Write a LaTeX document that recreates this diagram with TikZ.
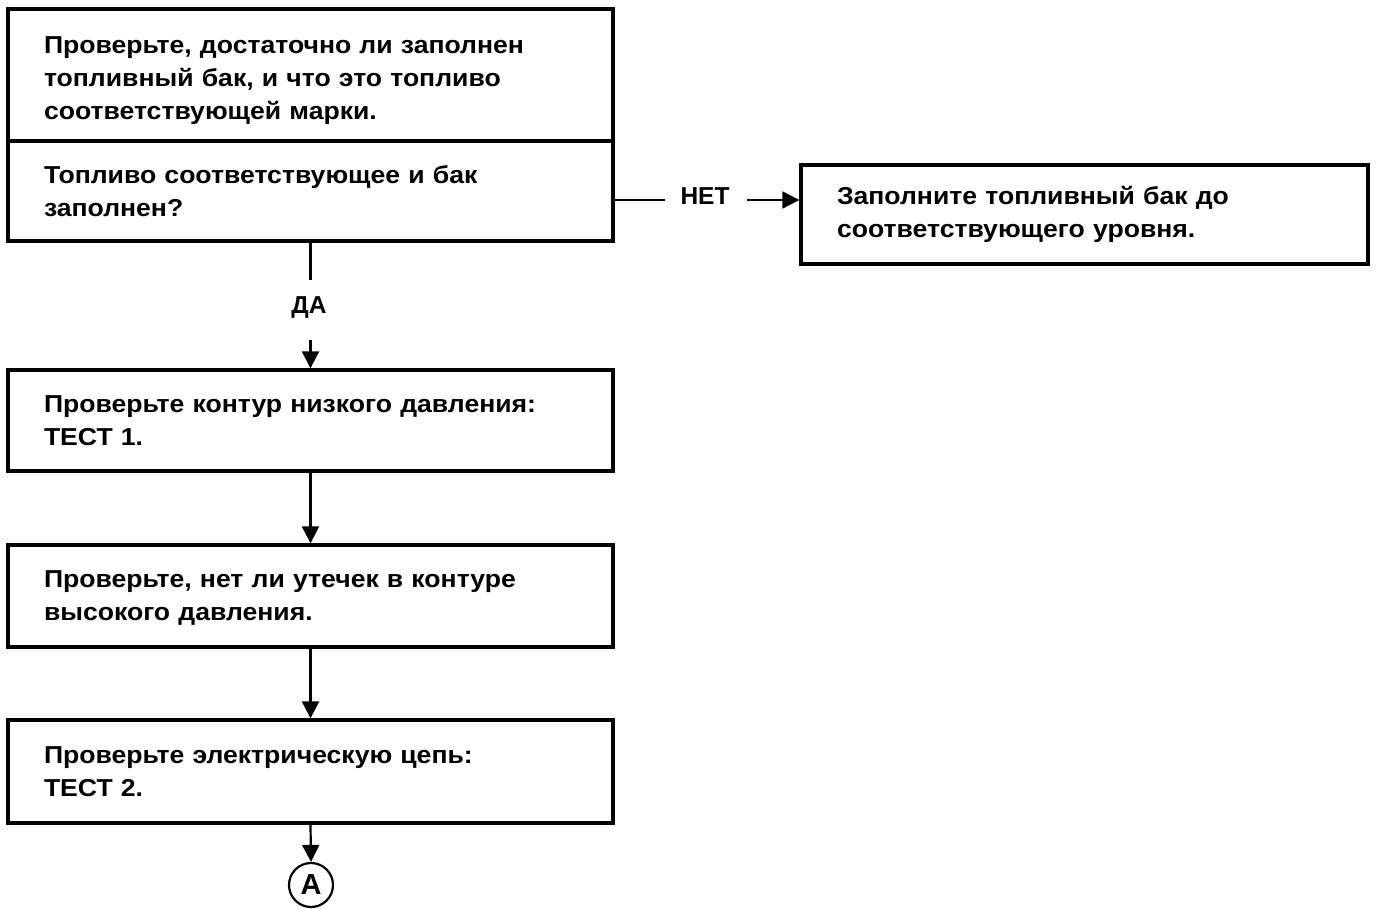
\documentclass[tikz,border=0pt]{standalone}
\usepackage{fontspec}
\setmainfont{Liberation Sans}
\newfontfamily\boxfont[FakeStretch=1.085]{Liberation Sans}
\usetikzlibrary{arrows.meta}
\begin{document}
\begin{tikzpicture}[x=1pt,y=-1pt,
  every node/.style={font=\boxfont\fontsize{24.5}{33}\selectfont\bfseries},
  label text/.style={font=\fontsize{24.5}{24.5}\selectfont\bfseries},
  stepbox/.style={draw,line width=3.4pt,rectangle,minimum width=605pt,
    inner xsep=36pt,inner ysep=0pt,text width=533pt,align=left},
  shift text/.style={execute at end node={\endgraf\vspace*{#1}}},
  link/.style={line width=2.2pt},
  arrowlink/.style={line width=2.2pt,-{Triangle[length=17pt,width=17pt]}}]
\useasboundingbox (0,0) rectangle (1376,909);
% main column
\node[stepbox,minimum height=132pt,shift text=-11pt] (q1) at (310.5,75)
  {Проверьте, достаточно ли заполнен\\топливный бак, и что это топливо\\соответствующей марки.};
\node[stepbox,minimum height=100pt] (q2) at (310.5,191)
  {Топливо соответствующее и бак\\заполнен?};
\node[stepbox,minimum height=101pt] (b2) at (310.5,420.5)
  {Проверьте контур низкого давления:\\ТЕСТ 1.};
\node[stepbox,minimum height=102pt,shift text=-4pt] (b3) at (310.5,596)
  {Проверьте, нет ли утечек в контуре\\высокого давления.};
\node[stepbox,minimum height=103pt] (b4) at (310.5,771.5)
  {Проверьте электрическую цепь:\\ТЕСТ 2.};
% side branch
\node[stepbox,minimum width=567pt,minimum height=99pt,text width=495pt]
  (fill) at (1084.5,214.5)
  {Заполните топливный бак до\\соответствующего уровня.};
% connector to the next page
\node[draw,circle,line width=2.2pt,minimum size=44pt,inner sep=0pt,
  font=\fontsize{29}{29}\selectfont\bfseries] (A) at (311,885) {A};
% "no" branch
\coordinate (n1) at (613,200);
\coordinate (n2) at (665,200);
\node[label text] (net) at (705,196) {НЕТ};
\coordinate (n3) at (747,200);
\draw[link] (n1) -- (n2);
\draw[arrowlink] (n3) -- (fill.west |- n3);
% "yes" branch
\coordinate (d1) at (310.5,280);
\node[label text] (da) at (309,308) {ДА};
\coordinate (d2) at (310.5,340);
\draw[link] (q2.south) -- (d1);
\draw[arrowlink] (d2) -- (b2.north);
% sequence
\draw[arrowlink] (b2.south) -- (b3.north);
\draw[arrowlink] (b3.south) -- (b4.north);
\draw[arrowlink] (b4.south) -- (A.north);
\end{tikzpicture}
\end{document}
